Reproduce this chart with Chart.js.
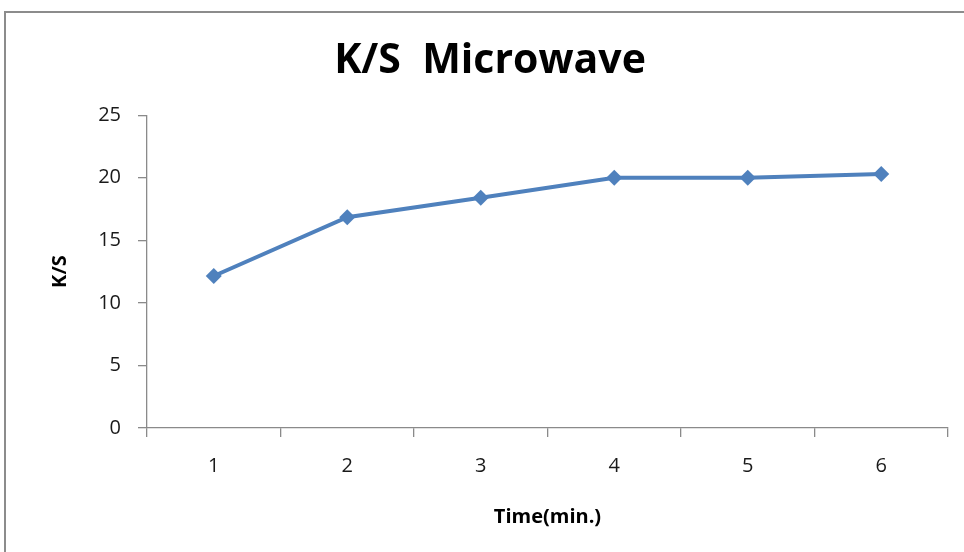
<!DOCTYPE html>
<html>
<head>
<meta charset="utf-8">
<script src="https://cdn.jsdelivr.net/npm/chart.js@4.4.0/dist/chart.umd.min.js"></script>
<style>
  html, body { margin: 0; padding: 0; background: #fff; overflow: hidden; }
  #wrap { position: relative; width: 964px; height: 552px; }
  #frame { position: absolute; left: 4px; top: 11px; width: 2000px; height: 2000px;
           border-left: 2px solid #8c8c8c; border-top: 2px solid #8c8c8c; pointer-events: none; }
  canvas { position: absolute; left: 0; top: 0; }
</style>
</head>
<body>
<div id="wrap">
  <canvas id="c" width="964" height="552"></canvas>
  <div id="frame"></div>
</div>
<script>
const categories = ['1', '2', '3', '4', '5', '6'];
const ksValues = [12.15, 16.85, 18.4, 20.0, 20.0, 20.3];
const yTicks = [0, 5, 10, 15, 20, 25];

const FONT = "'Open Sans', 'DejaVu Sans', sans-serif";
const AXIS = '#8a8a8a';

new Chart(document.getElementById('c'), {
  type: 'line',
  data: {
    labels: categories,
    datasets: [{
      label: 'K/S',
      data: ksValues,
      borderColor: '#4f81bd',
      backgroundColor: '#4f81bd',
      borderWidth: 4,
      pointStyle: 'rectRot',
      pointRadius: 8,
      pointBorderWidth: 0,
      pointBackgroundColor: '#4f81bd',
      tension: 0,
      fill: false
    }]
  },
  options: {
    responsive: false,
    animation: false,
    devicePixelRatio: 1,
    layout: { padding: { left: 32, right: 16, top: 0, bottom: 0 } },
    plugins: {
      legend: { display: false },
      tooltip: { enabled: false },
      title: {
        display: true,
        text: 'K/S  Microwave',
        color: '#000',
        font: { family: FONT, size: 41, weight: 'bold', lineHeight: 1.2 },
        padding: { top: 37, bottom: 29 }
      }
    },
    scales: {
      x: {
        type: 'category',
        offset: true,
        afterFit: (s) => { s.height = 124; },
        grid: { display: true, drawOnChartArea: false, offset: true, tickLength: 9, color: AXIS, lineWidth: 1.3 },
        border: { display: true, color: AXIS, width: 1.3 },
        ticks: { color: '#1a1a1a', font: { family: FONT, size: 20 }, padding: 17, maxRotation: 0 },
        title: {
          display: true,
          text: 'Time(min.)',
          color: '#000',
          font: { family: FONT, size: 20, weight: 'bold', lineHeight: 1.2 },
          padding: { top: 0, bottom: 23 }
        }
      },
      y: {
        min: 0,
        max: 25,
        afterFit: (s) => { s.width = 115; },
        afterBuildTicks: (s) => { s.ticks = yTicks.map(v => ({ value: v })); },
        grid: { display: true, drawOnChartArea: false, tickLength: 9, color: AXIS, lineWidth: 1.3 },
        border: { display: true, color: AXIS, width: 1.3 },
        ticks: { color: '#1a1a1a', font: { family: FONT, size: 20 }, padding: 17 },
        title: {
          display: true,
          text: 'K/S',
          color: '#000',
          font: { family: FONT, size: 20, weight: 'bold', lineHeight: 1.2 },
          padding: { top: 16, bottom: 0 }
        }
      }
    }
  }
});
</script>
</body>
</html>
